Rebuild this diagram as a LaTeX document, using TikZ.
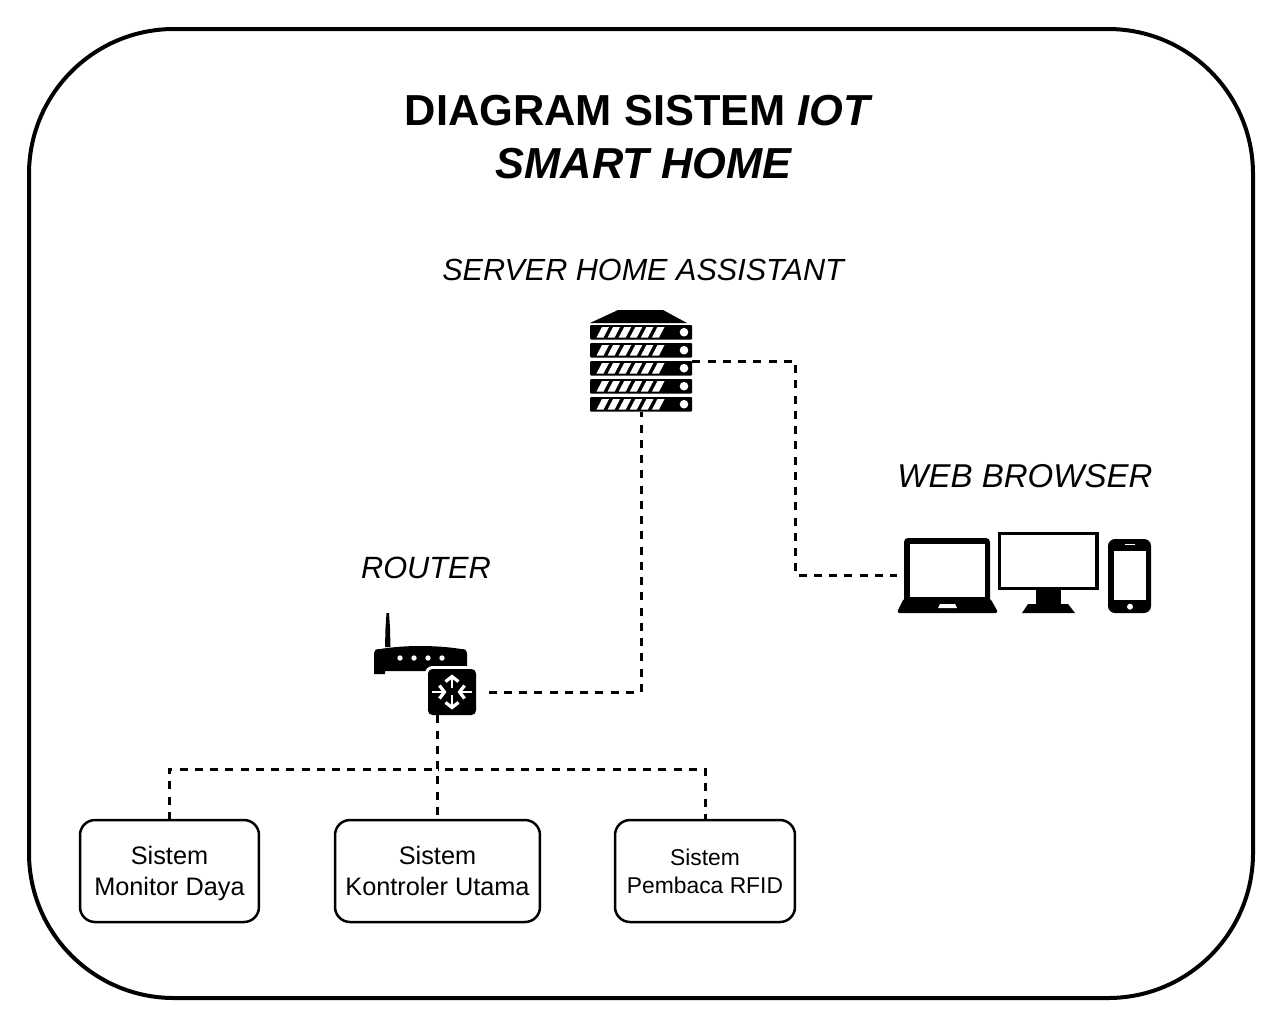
\documentclass[tikz,border=0pt]{standalone}
\usepackage{fontspec}
\setmainfont{Liberation Sans}
\usetikzlibrary{arrows.meta}
\def\fsize#1{\fontsize{#1}{#1}\selectfont}
\tikzset{
	sistembox/.style={draw, line width=0.5mm, rounded corners=0.3cm, align=center, inner sep=0pt, minimum height=2.04cm, text depth=0pt},
	icon/.style={inner sep=0pt},
	dashlink/.style={line width=0.6mm, dash pattern=on 1.6mm off 1.45mm},
	arrowout/.style={draw=white, line width=0.55mm, -{Straight Barb[length=1mm,width=2.6mm,line width=0.65mm]}},
}

\begin{document}
\begin{tikzpicture}[x=0.02cm, y=-0.02cm]
			%%%%% START %%%%%
			\useasboundingbox (0, 0) rectangle (1280, 1025);
			
			\draw[line width=0.8mm, rounded corners=2.9cm] (29, 29) rectangle (1253, 998);
			
			\node[font=\bfseries\fsize{24.7}] (titlea) at (639, 110.5) {DIAGRAM SISTEM \textit{IOT}};
			\node[font=\bfseries\itshape\fsize{24.7}] (titleb) at (643.5, 164) {SMART HOME};
			
			\node[font=\itshape\fsize{17.4}] (serverlabel) at (643, 270) {SERVER HOME ASSISTANT};
			\node[font=\itshape\fsize{18.8}] (browserlabel) at (1025, 476) {WEB BROWSER};
			\node[font=\itshape\fsize{17.5}] (routerlabel) at (426, 568) {ROUTER};
			
			% server
			\node[icon, minimum width=2.04cm, minimum height=2.04cm] (server) at (641, 361) {};
			\fill (590, 323) -- (618, 310) -- (663, 310) -- (687, 323) -- cycle;
			\foreach \y in {325, 343, 361, 379, 397} {
				\fill[rounded corners=0.02cm] (590, \y) rectangle (692, \y+14.5);
				\fill[white] (684, \y+7.2) circle (4.3);
				\foreach \x in {0, 11.1, 22.2, 33.3, 44.4, 55.5}
					\fill[white] (596.5+\x, \y+12.5) -- (603.5+\x, \y+12.5) -- (609+\x, \y+2) -- (602+\x, \y+2) -- cycle;
			}
			
			% router
			\fill (385, 647) -- (385.5, 628) -- (386.5, 613) -- (389, 613) -- (390, 628) -- (390.5, 647) -- cycle;
			\fill (374, 674) -- (374, 653) .. controls (374, 650) and (376, 649) .. (380, 649) .. controls (405, 645) and (436, 645) .. (461, 649) .. controls (465, 649) and (467, 650) .. (467, 653) -- (467, 671) -- (385, 671) -- (385, 674) -- cycle;
			\foreach \x in {400, 414, 428, 442}
				\fill[white] (\x, 658) circle (2.7);
			\fill[white, rounded corners=0.15cm] (425, 666) rectangle (479, 717);
			\node[icon, fill=black, rounded corners=0.09cm, minimum width=0.96cm, minimum height=0.92cm, outer xsep=0.24cm] (switch) at (452, 692) {};
			\draw[arrowout] (452, 688) -- (452, 674.5);
			\draw[arrowout] (452, 695) -- (452, 709.5);
			\draw[arrowout] (432, 692) -- (446.5, 692);
			\draw[arrowout] (472, 692) -- (457.5, 692);
			
			% browser
			\node[icon, minimum width=5.08cm, minimum height=1.52cm] (browser) at (1024, 575) {};
			\fill[rounded corners=0.08cm] (904, 538) rectangle (990, 603);
			\fill[white] (910, 544) rectangle (985, 597);
			\fill[rounded corners=0.06cm] (904, 598) -- (990, 598) -- (998.5, 613) -- (896.5, 613) -- cycle;
			\fill[white] (940, 604) -- (955, 604) -- (957, 608) -- (938, 608) -- cycle;
			\fill (998, 532) rectangle (1099, 590);
			\fill[white] (1001, 535) rectangle (1095, 587);
			\fill (1036, 590) rectangle (1061, 604);
			\fill (1028, 604) -- (1068, 604) -- (1075, 613) -- (1022, 613) -- cycle;
			\fill[rounded corners=0.14cm] (1108, 539) rectangle (1151, 613);
			\fill[white] (1114, 551) rectangle (1146, 600);
			\fill[white] (1125, 543.5) rectangle (1135, 545);
			\fill[white] (1130, 606.7) circle (3);
			
			% sistem
			\node[sistembox, minimum width=3.58cm, font=\fsize{14.4}] (monitor) at (169.5, 871) {Sistem\\[0.12cm]Monitor Daya};
			\node[sistembox, minimum width=4.1cm, font=\fsize{14.4}] (kontroler) at (437.5, 871) {Sistem\\[0.12cm]Kontroler Utama};
			\node[sistembox, minimum width=3.6cm, font=\fsize{13}] (rfid) at (705, 871) {Sistem\\[0.1cm]Pembaca RFID};
			
			\coordinate (bendbrowsera) at (795, 361);
			\coordinate (bendbrowserb) at (795, 575);
			\coordinate (bus) at (437.5, 769);
			
			\draw[dashlink] (server.east) -- (bendbrowsera) -- (bendbrowserb) -- (browser.west);
			\draw[dashlink, dash phase=0.6mm] (server.south) |- (switch.east);
			\draw[dashlink] (switch.south -| kontroler.north) -- (kontroler.north);
			\draw[dashlink, dash phase=0.2mm] (monitor.north) |- (bus);
			\draw[dashlink, dash phase=0.6mm] (rfid.north) |- (bus);
			
			%%%%% END %%%%%
\end{tikzpicture}
\end{document}
